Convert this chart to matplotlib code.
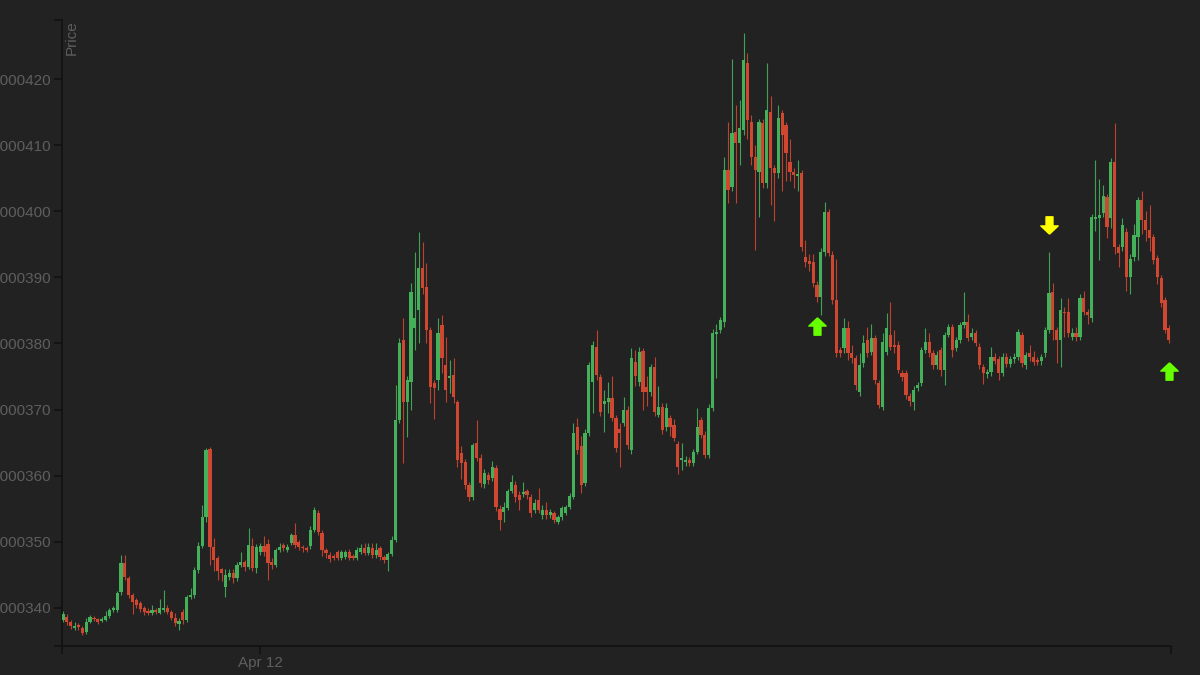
import numpy as np
import pandas as pd
import matplotlib
matplotlib.use('Agg')
import matplotlib.pyplot as plt
import matplotlib.dates as mdates
from matplotlib.path import Path

plt.rcParams['font.family'] = ['Liberation Sans', 'DejaVu Sans']

# OHLC in millionths (1e-6), 5-minute candles
opens = [
    338.2, 338.6, 337.9, 337.0, 337.4, 337.0, 336.3, 337.9, 338.5, 338.3,
    338.0, 338.2, 338.7, 339.6, 339.6, 342.4, 346.8, 344.5, 341.9, 341.2,
    340.7, 340.0, 339.5, 339.2, 339.7, 339.2, 339.6, 340.0, 339.4, 338.5,
    337.5, 339.3, 338.2, 341.6, 341.9, 345.7, 349.3, 353.7, 364.0, 349.2,
    347.5, 345.8, 343.2, 344.6, 345.3, 344.5, 346.5, 347.0, 346.1, 349.3,
    346.0, 348.5, 349.3, 349.7, 347.0, 346.5, 348.8, 349.5, 348.7, 349.8,
    351.0, 349.9, 349.2, 349.0, 349.3, 351.8, 354.3, 351.3, 348.7, 348.0,
    347.8, 348.4, 347.5, 347.7, 348.5, 347.8, 347.5, 348.4, 349.0, 348.3,
    349.0, 348.0, 349.0, 347.7, 347.2, 348.2, 350.3, 368.4, 380.5, 371.1,
    374.2, 382.3, 385.1, 391.4, 388.5, 382.0, 374.0, 374.5, 382.8, 376.7,
    374.8, 375.2, 371.1, 363.4, 362.0, 358.6, 356.8, 365.0, 362.7, 358.7,
    360.1, 359.6, 361.2, 355.0, 354.5, 355.1, 357.6, 358.6, 357.0, 357.2,
    357.6, 356.8, 354.8, 356.3, 354.0, 354.8, 354.0, 354.3, 353.0, 353.7,
    354.3, 355.3, 356.8, 367.4, 364.5, 358.9, 366.5, 374.2, 379.5, 374.9,
    370.9, 371.2, 371.7, 368.7, 367.0, 368.0, 370.0, 363.9, 377.2, 374.2,
    378.9, 373.4, 372.6, 376.4, 369.2, 370.4, 367.3, 368.7, 367.7, 364.8,
    362.4, 362.0, 362.4, 361.9, 363.6, 368.4, 366.2, 363.1, 370.2, 381.4,
    382.0, 383.2, 406.2, 403.6, 412.0, 410.3, 412.3, 422.4, 413.5, 408.2,
    405.9, 413.3, 404.3, 415.0, 406.5, 405.8, 414.9, 413.0, 407.5, 406.0,
    405.4, 405.8, 393.1, 392.4, 392.3, 388.8, 387.0, 393.8, 399.9, 393.4,
    386.6, 379.0, 379.3, 382.3, 378.5, 377.8, 372.6, 377.0, 380.5, 378.7,
    380.8, 374.0, 370.4, 378.7, 381.3, 379.8, 379.8, 375.5, 375.5, 372.0,
    371.1, 373.2, 374.0, 379.0, 380.2, 378.5, 376.7, 379.0, 376.0, 381.3,
    382.5, 379.3, 380.5, 382.8, 383.2, 380.9, 381.6, 379.5, 376.4, 375.4,
    375.6, 378.0, 377.6, 375.5, 378.0, 376.9, 377.6, 378.0, 381.3, 376.7,
    378.5, 377.9, 377.5, 377.3, 378.5, 382.0, 387.8, 382.0, 380.5, 384.8,
    384.8, 381.0, 381.6, 381.0, 386.9, 384.8, 383.8, 398.8, 399.0, 399.7,
    402.1, 399.0, 407.5, 394.6, 394.6, 396.9, 390.0, 393.0, 396.1, 401.7,
    398.7, 397.2, 396.1, 392.9, 389.9, 386.6, 382.3,
]
highs = [
    339.5, 339.0, 338.2, 337.8, 337.7, 337.3, 338.4, 338.9, 338.8, 338.5,
    338.6, 339.5, 340.0, 340.3, 342.6, 348.0, 348.0, 344.8, 342.2, 341.5,
    341.0, 340.3, 339.9, 340.4, 340.0, 341.3, 342.7, 340.4, 339.7, 339.2,
    338.5, 339.8, 342.0, 343.0, 346.2, 350.0, 355.5, 364.2, 364.4, 350.5,
    347.8, 346.0, 345.8, 345.8, 345.8, 347.0, 348.4, 347.3, 352.1, 350.6,
    349.6, 349.8, 350.9, 350.4, 347.5, 349.0, 349.8, 349.8, 349.6, 351.3,
    352.9, 350.3, 349.5, 349.3, 352.3, 355.3, 354.8, 351.8, 349.0, 348.4,
    348.2, 348.8, 348.8, 348.8, 348.9, 348.1, 349.2, 349.7, 349.8, 349.8,
    349.8, 349.8, 349.4, 348.0, 348.5, 350.8, 373.7, 380.8, 383.8, 375.0,
    389.1, 393.8, 396.9, 395.3, 392.2, 382.5, 374.5, 383.8, 384.3, 381.0,
    377.5, 377.8, 371.5, 364.5, 362.5, 359.0, 365.0, 368.4, 363.2, 361.0,
    360.6, 362.2, 361.6, 355.5, 356.0, 358.0, 360.1, 359.2, 357.6, 359.0,
    358.0, 357.2, 356.5, 358.2, 355.5, 356.0, 355.0, 354.6, 354.0, 355.4,
    355.6, 357.4, 368.0, 368.7, 366.0, 367.0, 377.2, 380.3, 382.0, 375.3,
    373.0, 374.2, 375.0, 369.2, 368.0, 371.9, 370.5, 379.3, 379.0, 379.5,
    379.3, 375.0, 376.9, 378.0, 373.5, 371.0, 371.0, 369.2, 368.6, 365.2,
    365.0, 363.0, 362.8, 364.0, 370.2, 368.8, 366.7, 370.8, 382.2, 383.0,
    384.0, 408.2, 413.5, 423.0, 416.0, 416.8, 427.0, 424.0, 414.5, 410.0,
    414.0, 414.0, 422.4, 417.5, 407.0, 416.0, 415.3, 413.5, 411.0, 406.5,
    407.7, 406.2, 395.6, 393.5, 393.5, 389.5, 394.5, 401.4, 400.3, 394.0,
    392.8, 379.5, 383.8, 383.4, 379.8, 378.2, 378.5, 381.2, 382.5, 383.0,
    381.3, 374.5, 381.5, 384.6, 386.3, 382.0, 380.3, 376.0, 376.0, 372.5,
    373.5, 374.2, 379.5, 382.4, 381.5, 379.0, 378.8, 379.5, 381.8, 383.0,
    383.0, 381.0, 383.3, 387.8, 384.5, 382.3, 382.0, 380.0, 376.9, 376.2,
    379.5, 378.5, 378.1, 378.5, 378.5, 378.1, 378.6, 382.2, 381.8, 378.7,
    379.7, 378.9, 377.9, 378.4, 382.5, 393.8, 389.2, 382.5, 386.9, 385.5,
    386.8, 382.3, 382.5, 387.5, 388.0, 385.2, 399.6, 407.7, 404.9, 404.0,
    402.6, 408.0, 413.3, 395.1, 398.9, 397.4, 393.5, 398.0, 402.2, 403.0,
    400.0, 401.0, 396.6, 393.4, 390.4, 387.0, 382.8,
]
lows = [
    337.8, 337.4, 336.8, 336.6, 336.7, 335.9, 336.0, 337.7, 338.0, 337.6,
    337.8, 338.0, 338.5, 339.4, 339.4, 342.0, 344.2, 341.5, 339.0, 339.9,
    339.4, 338.9, 338.9, 338.9, 339.1, 339.0, 339.4, 339.1, 338.1, 337.3,
    336.6, 337.6, 337.8, 341.3, 341.5, 345.3, 349.0, 353.0, 346.5, 345.5,
    344.2, 344.0, 341.6, 344.2, 343.8, 344.0, 346.2, 345.6, 345.8, 345.5,
    345.3, 348.0, 347.8, 344.2, 345.8, 346.2, 348.5, 348.6, 348.4, 349.5,
    349.0, 348.8, 348.4, 348.5, 348.9, 351.5, 351.0, 347.9, 347.5, 347.0,
    347.2, 347.2, 347.2, 347.4, 347.2, 347.2, 347.2, 348.1, 348.0, 348.0,
    347.6, 347.6, 347.2, 346.8, 345.5, 347.9, 350.0, 368.0, 361.9, 365.8,
    369.9, 379.0, 380.0, 387.5, 380.0, 371.0, 368.6, 373.0, 375.5, 371.1,
    372.5, 371.0, 361.3, 359.5, 358.0, 356.2, 356.3, 362.2, 358.3, 358.2,
    358.8, 359.2, 354.7, 351.8, 353.0, 354.8, 357.3, 356.0, 354.8, 356.8,
    356.5, 353.8, 354.3, 354.3, 353.5, 353.5, 353.6, 352.9, 352.7, 353.3,
    354.0, 355.0, 356.5, 363.3, 357.4, 358.5, 366.0, 369.5, 374.5, 369.0,
    366.6, 369.5, 368.2, 363.6, 361.3, 367.5, 364.0, 363.3, 373.5, 373.5,
    370.0, 370.5, 372.0, 369.0, 368.8, 366.3, 366.7, 366.0, 365.2, 360.2,
    360.8, 361.5, 361.5, 361.5, 363.2, 365.7, 362.6, 362.7, 369.8, 374.8,
    381.5, 382.5, 401.3, 403.0, 401.2, 407.0, 411.5, 411.0, 407.0, 394.1,
    399.1, 403.5, 403.5, 401.0, 398.5, 405.0, 403.0, 404.5, 404.5, 403.5,
    403.0, 394.0, 391.5, 391.0, 388.5, 386.3, 384.3, 393.3, 393.2, 386.0,
    377.9, 378.0, 378.5, 377.5, 377.0, 373.0, 372.0, 376.5, 378.0, 378.2,
    373.8, 370.2, 369.9, 378.2, 379.0, 378.5, 375.5, 374.3, 371.6, 370.6,
    369.9, 372.8, 373.5, 378.5, 378.0, 376.2, 376.2, 375.0, 373.7, 381.0,
    378.0, 378.8, 380.0, 382.3, 380.3, 380.5, 379.6, 376.2, 373.8, 374.8,
    375.1, 376.9, 374.5, 375.0, 376.4, 376.4, 377.1, 377.5, 376.5, 376.2,
    377.4, 376.7, 376.8, 376.8, 378.0, 381.5, 380.5, 377.0, 376.5, 381.0,
    381.0, 380.5, 380.3, 380.5, 384.3, 383.0, 383.3, 397.0, 392.6, 399.2,
    396.0, 397.5, 393.5, 391.6, 394.0, 388.0, 387.4, 392.5, 392.6, 396.5,
    395.5, 394.0, 392.0, 389.0, 385.5, 381.5, 380.0,
]
closes = [
    339.0, 337.9, 337.2, 337.3, 337.1, 336.2, 337.9, 338.6, 338.3, 337.9,
    338.3, 338.7, 339.7, 339.9, 342.3, 346.8, 344.7, 341.9, 340.9, 340.4,
    339.8, 339.4, 339.2, 339.7, 339.4, 340.0, 339.9, 339.4, 338.5, 337.7,
    338.0, 338.2, 341.6, 342.0, 345.7, 349.3, 353.7, 363.8, 349.2, 347.3,
    345.6, 345.3, 345.0, 345.3, 344.5, 346.5, 347.0, 346.1, 349.5, 346.0,
    349.2, 349.3, 348.4, 346.8, 346.5, 348.8, 349.2, 349.0, 349.2, 351.0,
    349.5, 349.2, 349.0, 348.8, 351.8, 354.8, 351.5, 348.7, 348.3, 347.4,
    347.5, 347.5, 348.4, 348.5, 347.6, 347.5, 348.7, 349.0, 348.3, 349.2,
    348.0, 348.7, 347.7, 347.2, 348.2, 350.3, 368.4, 380.0, 371.1, 374.5,
    387.8, 383.8, 391.4, 388.4, 382.0, 373.4, 373.3, 381.6, 377.8, 373.0,
    375.0, 371.9, 362.4, 361.9, 358.6, 356.8, 364.6, 362.7, 358.9, 360.4,
    359.3, 361.3, 355.3, 353.3, 355.3, 357.6, 359.0, 356.8, 356.3, 357.5,
    357.1, 354.3, 355.9, 354.8, 354.8, 354.0, 354.5, 353.3, 353.7, 355.1,
    355.3, 356.9, 366.5, 363.9, 358.6, 366.5, 376.8, 379.8, 375.2, 369.6,
    371.3, 371.7, 368.7, 364.2, 366.4, 370.0, 364.6, 377.8, 375.0, 378.7,
    372.6, 372.6, 376.4, 369.6, 370.4, 366.9, 370.2, 367.3, 365.7, 361.3,
    362.6, 362.4, 361.9, 363.6, 367.4, 366.2, 363.1, 370.2, 381.6, 381.8,
    383.5, 406.2, 403.2, 411.8, 410.3, 412.6, 422.9, 413.8, 408.2, 406.2,
    413.5, 404.3, 415.3, 406.5, 405.8, 414.1, 411.5, 408.8, 406.0, 405.5,
    405.6, 394.6, 392.3, 392.0, 389.1, 387.0, 393.8, 399.9, 393.7, 386.6,
    378.5, 378.5, 382.3, 378.5, 377.8, 373.7, 376.7, 380.1, 378.5, 380.8,
    374.5, 370.7, 380.2, 382.3, 379.5, 379.5, 376.0, 374.9, 372.2, 371.3,
    373.0, 373.7, 379.0, 380.2, 378.5, 376.7, 378.2, 376.0, 381.3, 382.5,
    379.0, 380.5, 382.8, 383.3, 380.8, 381.5, 380.1, 376.7, 375.5, 375.7,
    378.0, 377.4, 375.5, 378.0, 376.9, 377.6, 378.0, 381.7, 377.0, 378.2,
    377.9, 377.2, 377.2, 377.9, 382.0, 387.6, 382.0, 380.5, 385.0, 384.6,
    381.6, 381.6, 381.0, 386.9, 384.8, 384.3, 399.1, 399.1, 399.4, 402.3,
    397.6, 407.5, 394.6, 393.7, 397.9, 390.0, 392.8, 396.4, 401.7, 398.7,
    397.2, 396.0, 392.6, 390.0, 386.1, 382.0, 380.5,
]

start_time = '2024-04-11 19:45'
y_ticks = [340, 350, 360, 370, 380, 390, 400, 410, 420]

# trade signals: candle index and marker level (millionths)
buy_idx = [195, 286]
buy_level = [382.6, 375.8]
sell_idx = [255]
sell_level = [397.9]

BG = '#222222'
GREEN = '#45b05a'
RED = '#d04731'
AXIS = '#111111'
TEXT = '#5e5e5e'

scale = 1e-6
o = np.array(opens) * scale
h = np.array(highs) * scale
l = np.array(lows) * scale
c = np.array(closes) * scale

times = pd.date_range(start_time, periods=len(closes), freq='5min')
x = mdates.date2num(times)
step = x[1] - x[0]

fig = plt.figure(figsize=(12, 6.75), dpi=100, facecolor=BG)
ax = fig.add_axes([62 / 1200, 29 / 675, 1109 / 1200, 626 / 675])
ax.set_facecolor(BG)

up = c >= o
colors = np.where(up, GREEN, RED)
ax.vlines(x, l, h, colors=colors, linewidth=0.8, alpha=0.9, zorder=2)
body_low = np.minimum(o, c)
body_h = np.maximum(np.abs(c - o), 0.15 * scale)
ax.bar(x, body_h, bottom=body_low, width=step * 0.82, color=colors,
       linewidth=0, zorder=3)

# block arrow markers
up_arrow = Path([(0, 1), (1, 0.05), (0.4, 0.05), (0.4, -1), (-0.4, -1),
                 (-0.4, 0.05), (-1, 0.05), (0, 1)])
down_arrow = Path([(vx, -vy) for vx, vy in up_arrow.vertices])
ax.plot(x[buy_idx], np.array(buy_level) * scale, linestyle='none',
        marker=up_arrow, markersize=12.5, color='#66ff00', zorder=4,
        clip_on=False)
ax.plot(x[sell_idx], np.array(sell_level) * scale, linestyle='none',
        marker=down_arrow, markersize=12.5, color='#ffff00', zorder=4,
        clip_on=False)

ymin, ymax = 334.22 * scale, 428.93 * scale
ax.set_ylim(ymin, ymax)
xmin, xmax = x[0] - 0.26 * step, x[-1] + 0.55 * step
ax.set_xlim(xmin, xmax)

ax.set_yticks(np.array(y_ticks) * scale)
ax.set_yticklabels([f'{v * scale:.6f}' for v in y_ticks])
ax.set_yticks([ymin, ymax], minor=True)
ax.set_xticks([xmin, xmax], minor=True)
ax.xaxis.set_major_locator(mdates.DayLocator())
ax.xaxis.set_major_formatter(mdates.DateFormatter('%b %d'))
ax.xaxis.set_minor_formatter(plt.NullFormatter())
ax.yaxis.set_minor_formatter(plt.NullFormatter())

ax.tick_params(which='both', direction='out', length=6, width=1.1,
               color=AXIS, labelcolor=TEXT, labelsize=11)
ax.tick_params(axis='y', pad=2)
ax.tick_params(axis='x', pad=1)
for side in ['top', 'right']:
    ax.spines[side].set_visible(False)
for side in ['left', 'bottom']:
    ax.spines[side].set_color(AXIS)
    ax.spines[side].set_linewidth(1.1)

fig.text(65 / 1200, 1 - 20 / 675, 'Price', rotation=90, ha='left', va='top',
         color=TEXT, fontsize=11)

fig.savefig('out.png', dpi=100, facecolor=BG)
